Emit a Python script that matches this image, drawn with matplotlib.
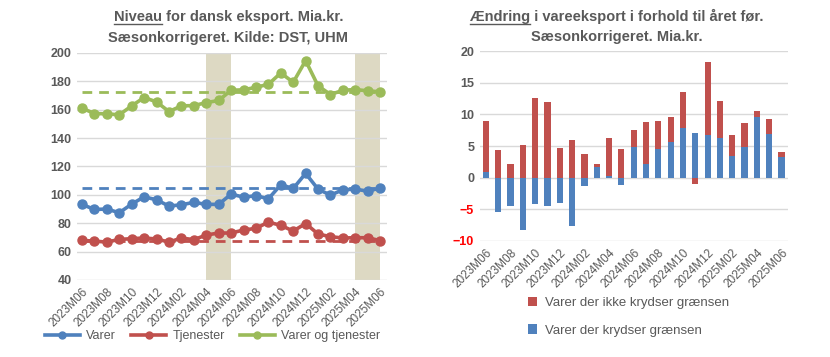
import matplotlib
matplotlib.use("Agg")
import matplotlib.pyplot as plt
from matplotlib.lines import Line2D
import numpy as np

plt.rcParams['font.family'] = ['Liberation Sans', 'DejaVu Sans']

months = ["2023M06", "2023M07", "2023M08", "2023M09", "2023M10", "2023M11", "2023M12",
          "2024M01", "2024M02", "2024M03", "2024M04", "2024M05", "2024M06", "2024M07",
          "2024M08", "2024M09", "2024M10", "2024M11", "2024M12", "2025M01", "2025M02",
          "2025M03", "2025M04", "2025M05", "2025M06"]

varer = [93.3, 89.7, 90.0, 87.4, 93.5, 98.6, 96.5, 92.1, 93.0, 94.7, 93.3, 93.3, 100.5,
         98.4, 99.4, 97.2, 107.1, 104.5, 115.1, 104.0, 99.8, 103.6, 104.0, 102.6, 104.8]
tjenester = [67.9, 67.4, 66.7, 68.6, 69.1, 69.6, 68.9, 66.7, 69.6, 68.4, 71.7, 73.1, 73.1,
             75.2, 76.4, 80.8, 78.5, 74.5, 79.8, 72.4, 70.5, 69.6, 69.8, 69.8, 67.7]
varer_tjenester = [161.1, 157.3, 157.1, 156.4, 162.7, 168.6, 165.5, 158.7, 162.7, 162.9,
                   165.0, 166.5, 173.7, 174.0, 175.8, 177.9, 185.9, 179.3, 194.6, 176.8,
                   170.7, 173.7, 174.2, 173.3, 172.6]
ref_varer = 104.8
ref_tjenester = 67.7
ref_total = 172.6
shade_periods = [("2024M04", "2024M06"), ("2025M04", "2025M06")]

krydser = [0.9, -5.4, -4.5, -8.2, -4.1, -4.5, -4.0, -7.6, -1.3, 1.7, 0.25, -1.2, 4.9,
           2.2, 4.6, 5.7, 7.9, 7.0, 6.7, 6.3, 3.4, 4.9, 9.6, 6.9, 3.3]
ikke_krydser = [8.1, 4.3, 2.1, 5.2, 12.6, 11.9, 4.7, 5.9, 3.7, 0.5, 6.0, 4.5, 2.6,
                6.6, 4.4, 3.9, 5.7, -1.0, 11.5, 5.8, 3.4, 3.8, 1.0, 2.3, 0.7]

BLUE = "#4f81bd"
RED = "#c0504d"
GREEN = "#9bbb59"
SHADE = "#ddd9c3"
GRID = "#d9d9d9"
TXT = "#595959"

fig = plt.figure(figsize=(8.3, 3.57), dpi=100)

# ---------------- Left chart ----------------
ax1 = fig.add_axes([0.0928, 0.2157, 0.3735, 0.636])
x = np.arange(len(months))
for a, b in shade_periods:
    ax1.axvspan(months.index(a), months.index(b), color=SHADE, lw=0, zorder=0)
ax1.plot(x, varer, color=BLUE, lw=2.6, marker='o', ms=6.5, zorder=3, label="Varer")
ax1.plot(x, tjenester, color=RED, lw=2.6, marker='o', ms=6.5, zorder=3, label="Tjenester")
ax1.plot(x, varer_tjenester, color=GREEN, lw=2.6, marker='o', ms=6.5, zorder=3,
         label="Varer og tjenester")
ax1.plot([x[0], x[-1]], [ref_varer] * 2, color=BLUE, lw=2, ls=(0, (3.5, 2.5)), zorder=2)
ax1.plot([x[0], x[-1]], [ref_tjenester] * 2, color=RED, lw=2, ls=(0, (3.5, 2.5)), zorder=2)
ax1.plot([x[0], x[-1]], [ref_total] * 2, color=GREEN, lw=2, ls=(0, (3.5, 2.5)), zorder=2)
ax1.set_ylim(40, 200)
ax1.set_xlim(-0.4, len(months) - 0.45)
ax1.set_yticks(np.arange(40, 201, 20))
ax1.grid(axis='y', color=GRID, lw=1)
ax1.set_axisbelow(True)
ax1.set_xticks(x[::2])
ax1.set_xticklabels(months[::2], rotation=45, ha='right', rotation_mode='anchor',
                    fontsize=8.5, color=TXT)
for lbl in ax1.get_yticklabels():
    lbl.set_fontweight('bold')
    lbl.set_color(TXT)
    lbl.set_fontsize(9)
ax1.tick_params(length=0, pad=4)
for s in ax1.spines.values():
    s.set_visible(False)
leg_handles = [Line2D([], [], color=c, lw=2.6, marker='o', ms=5)
               for c in (BLUE, RED, GREEN)]
ax1.legend(leg_handles, ["Varer", "Tjenester", "Varer og tjenester"], loc='center',
           bbox_to_anchor=(0.256, 0.059), bbox_transform=fig.transFigure,
           ncol=3, frameon=False, fontsize=9, handlelength=2.8, columnspacing=1.2,
           handletextpad=0.5, labelcolor=TXT, borderaxespad=0)

# ---------------- Right chart ----------------
ax2 = fig.add_axes([0.578, 0.325, 0.371, 0.532])
k = np.array(krydser)
ik = np.array(ikke_krydser)
w = 0.5
ax2.bar(x, k, width=w, color=BLUE, zorder=3, label="Varer der krydser grænsen")
red_bottom = np.where((ik >= 0) & (k > 0), k, 0)
red_bottom = np.where((ik < 0) & (k < 0), k, red_bottom)
ax2.bar(x, ik, width=w, bottom=red_bottom, color=RED, zorder=3,
        label="Varer der ikke krydser grænsen")
ax2.set_ylim(-10, 20)
ax2.set_xlim(-0.5, len(months) - 0.5)
ax2.set_yticks(np.arange(-10, 21, 5))
ax2.grid(axis='y', color=GRID, lw=1)
ax2.set_axisbelow(True)
ax2.set_xticks(x[::2])
ax2.set_xticklabels(months[::2], rotation=45, ha='right', rotation_mode='anchor',
                    fontsize=8.5, color=TXT)
for lbl, v in zip(ax2.get_yticklabels(), np.arange(-10, 21, 5)):
    lbl.set_fontweight('bold')
    lbl.set_fontsize(9)
    lbl.set_color("#ff0000" if v < 0 else TXT)
ax2.tick_params(length=0, pad=4)
for s in ax2.spines.values():
    s.set_visible(False)
h, l = ax2.get_legend_handles_labels()
ax2.legend(h[::-1], l[::-1], loc='upper left', bbox_to_anchor=(0.630, 0.183),
           bbox_transform=fig.transFigure, ncol=1, frameon=False, fontsize=9.5,
           handlelength=0.7, handleheight=0.7, handletextpad=0.6, labelspacing=1.15,
           labelcolor=TXT, borderaxespad=0)

# ---------------- Titles with underlined first word ----------------
def title(cx, y1, y2, first, rest, line2):
    fs = 10.5
    t = fig.text(cx, y1, first + rest, ha='center', va='baseline', fontsize=fs,
                 fontweight='bold', color=TXT)
    fig.text(cx, y2, line2, ha='center', va='baseline', fontsize=fs,
             fontweight='bold', color=TXT)
    fig.canvas.draw()
    r = fig.canvas.get_renderer()
    bb = t.get_window_extent(r)
    tmp = fig.text(0, 0, first, fontsize=fs, fontweight='bold')
    wb = tmp.get_window_extent(r)
    tmp.remove()
    x0 = bb.x0 / fig.bbox.width
    x1 = (bb.x0 + wb.width) / fig.bbox.width
    yl = y1 - 2.5 / fig.bbox.height
    fig.add_artist(Line2D([x0, x1], [yl, yl], transform=fig.transFigure, color=TXT, lw=1))

title(0.275, 1 - 21 / 357, 1 - 42 / 357, "Niveau", " for dansk eksport. Mia.kr.",
      "Sæsonkorrigeret. Kilde: DST, UHM")
title(0.743, 1 - 21 / 357, 1 - 41 / 357, "Ændring", " i vareeksport i forhold til året før.",
      "Sæsonkorrigeret. Mia.kr.")

fig.savefig("out.png", dpi=100)
